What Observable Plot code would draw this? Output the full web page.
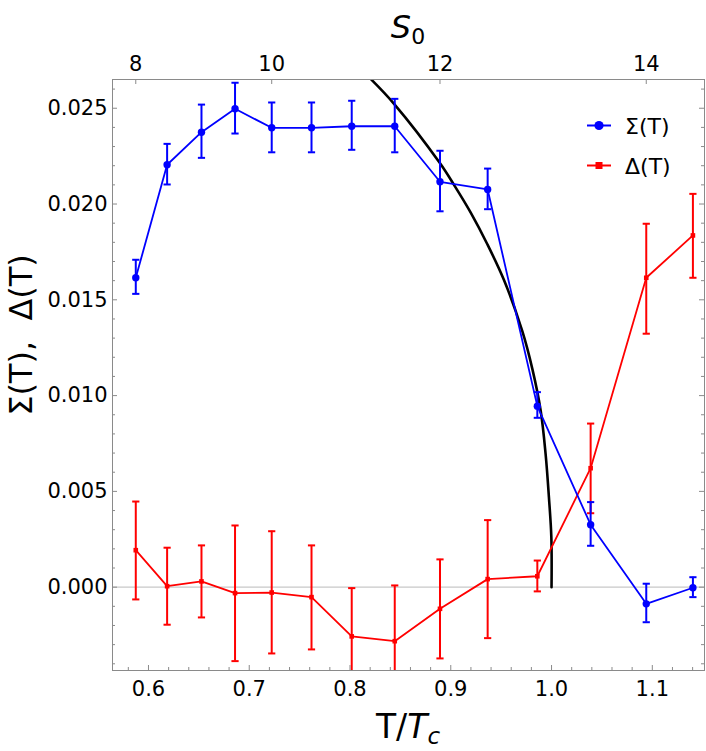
<!DOCTYPE html>
<html><head><meta charset="utf-8">
<script src="https://cdn.jsdelivr.net/npm/d3@7"></script>
<script src="https://cdn.jsdelivr.net/npm/@observablehq/plot@0.6"></script>
<style>body{margin:0;background:#fff} #chart{width:706px;height:751px}</style>
</head><body><div id="chart"></div><script>
// ---- data ----
const s0 = [8, 8.5, 9, 9.5, 10, 10.5, 11, 11.5, 12, 12.5, 13, 13.5, 14, 14.5];
const tOverTc = [0.5874, 0.6185, 0.6526, 0.6859, 0.7223, 0.7618, 0.8017, 0.8444, 0.8893, 0.9366, 0.9859, 1.0388, 1.0940, 1.1403];
const sigma   = [0.01615, 0.02205, 0.02375, 0.02497, 0.02398, 0.02398, 0.02406, 0.02406, 0.02116, 0.02076, 0.00945, 0.00326, -0.00087, -0.00003];
const sigmaHi = [0.01709, 0.02314, 0.02519, 0.02633, 0.02530, 0.02530, 0.02539, 0.02549, 0.02278, 0.02185, 0.01018, 0.00444, 0.00018, 0.00052];
const sigmaLo = [0.01531, 0.02102, 0.02241, 0.02368, 0.02270, 0.02270, 0.02283, 0.02270, 0.01962, 0.01973, 0.00884, 0.00216, -0.00183, -0.00052];
const delta   = [0.00193, 0.00005, 0.00030, -0.00031, -0.00028, -0.00052, -0.00257, -0.00282, -0.00113, 0.00042, 0.00057, 0.00621, 0.01615, 0.01836];
const deltaHi = [0.00447, 0.00206, 0.00218, 0.00322, 0.00292, 0.00218, -0.00005, 0.00009, 0.00145, 0.00350, 0.00139, 0.00854, 0.01897, 0.02053];
const deltaLo = [-0.00064, -0.00196, -0.00158, -0.00386, -0.00346, -0.00325, -0.00510, -0.00570, -0.00372, -0.00266, -0.00022, 0.00386, 0.01323, 0.01615];
// black reference curve
const curveT = [0.8205, 0.8437, 0.8890, 0.9032, 0.9198, 0.9363, 0.9528, 0.9710, 0.9810, 0.9892, 0.9941, 0.9974, 0.9998, 1.0000];
const curveV = [0.02653, 0.02523, 0.02215, 0.02100, 0.01955, 0.01790, 0.01603, 0.01336, 0.01138, 0.00922, 0.00696, 0.00470, 0.00261, 0.00000];
// ticks
const xTicks = [0.6, 0.7, 0.8, 0.9, 1.0, 1.1];
const yTicks = [0, 0.005, 0.010, 0.015, 0.020, 0.025];
const topTickS0 = [8, 10, 12, 14];
const seriesNames = ["Σ(T)", "Δ(T)"];
const seriesColors = ["#0000ff", "#ff0000"];

// ---- build tables ----
const sigData = tOverTc.map((t, i) => ({t, v: sigma[i], hi: sigmaHi[i], lo: sigmaLo[i]}));
const delData = tOverTc.map((t, i) => ({t, v: delta[i], hi: deltaHi[i], lo: deltaLo[i]}));
const curve = curveT.map((t, i) => ({t, v: curveV[i]}));
const topTickT = topTickS0.map(s => tOverTc[s0.indexOf(s)]);
const topLabel = new Map(topTickT.map((t, i) => [t, String(topTickS0[i])]));
const xMinor = d3.range(58, 116, 2).filter(k => k % 10 !== 0).map(k => k / 100);
const yMinor = d3.range(-4, 27).filter(k => k % 5 !== 0).map(k => k / 1000);

const W = 706, H = 751, mt = 79, mb = 81, ml = 112, mr = 2;
const pw = W - ml - mr, ph = H - mt - mb;
const MAJ = 5, MIN = 3;
const gray = "#8a8a8a";
const FONT = "DejaVu Sans, Liberation Sans, sans-serif";

const capSymbol = {draw(ctx, size) { const r = Math.sqrt(size / Math.PI); ctx.moveTo(-r, 0); ctx.lineTo(r, 0); }};

function series(data, color, symbol, r) {
  return [
    Plot.ruleX(data, {x: "t", y1: "lo", y2: "hi", stroke: color, strokeWidth: 2, clip: true}),
    Plot.dot(data, {x: "t", y: "hi", symbol: capSymbol, r: 3.6, stroke: color, strokeWidth: 2, clip: true}),
    Plot.dot(data, {x: "t", y: "lo", symbol: capSymbol, r: 3.6, stroke: color, strokeWidth: 2, clip: true}),
    Plot.line(data, {x: "t", y: "v", stroke: color, strokeWidth: 1.8, clip: true}),
    Plot.dot(data, {x: "t", y: "v", symbol, r, fill: color, stroke: "none", clip: true})
  ];
}

const chart = Plot.plot({
  width: W, height: H,
  marginTop: mt, marginBottom: mb, marginLeft: ml, marginRight: mr,
  style: {fontFamily: FONT, background: "#fff"},
  x: {domain: [0.5643, 1.1518], axis: null},
  y: {domain: [-0.00435, 0.0265], axis: null},
  marks: [
    Plot.ruleY([0], {stroke: "#c8c8c8", strokeWidth: 1.2}),
    Plot.line(curve, {x: "t", y: "v", stroke: "#000", strokeWidth: 2.6, curve: "catmull-rom", clip: true}),
    ...series(delData, seriesColors[1], "square", 2.6),
    ...series(sigData, seriesColors[0], "circle", 3.7),
    Plot.frame({stroke: gray, strokeWidth: 1}),
    // ticks pointing inward on all four sides
    Plot.tickY(yTicks, {y: d => d, stroke: gray, insetRight: pw - MAJ}),
    Plot.tickY(yMinor, {y: d => d, stroke: gray, insetRight: pw - MIN}),
    Plot.tickY(yTicks, {y: d => d, stroke: gray, insetLeft: pw - MAJ}),
    Plot.tickY(yMinor, {y: d => d, stroke: gray, insetLeft: pw - MIN}),
    Plot.tickX(xTicks, {x: d => d, stroke: gray, insetTop: ph - MAJ}),
    Plot.tickX(xMinor, {x: d => d, stroke: gray, insetTop: ph - MIN}),
    Plot.tickX(topTickT, {x: d => d, stroke: gray, insetBottom: ph - MAJ}),
    // tick labels
    Plot.axisY({ticks: yTicks, tickSize: 0, tickPadding: 5, tickFormat: d3.format(".3f"), label: null, fontSize: 21}),
    Plot.axisX({ticks: xTicks, tickSize: 0, tickPadding: 11, tickFormat: d3.format(".1f"), label: null, fontSize: 21}),
    Plot.axisX({anchor: "top", ticks: topTickT, tickSize: 0, tickPadding: 9, tickFormat: d => topLabel.get(d), label: null, fontSize: 21})
  ]
});
document.getElementById("chart").appendChild(chart);

// ---- axis titles and legend ----
const svg = d3.select(chart);
// bottom title T/T_c
const xt = svg.append("text").attr("x", 408).attr("y", 738).attr("text-anchor", "middle")
  .attr("font-family", FONT).attr("font-size", 33).attr("fill", "#000");
xt.append("tspan").text("T/");
xt.append("tspan").attr("font-style", "italic").text("T");
xt.append("tspan").attr("font-style", "italic").attr("font-size", 23).attr("dy", 6).text("c");
// top title S_0
const st = svg.append("text").attr("x", 408).attr("y", 38).attr("text-anchor", "middle")
  .attr("font-family", FONT).attr("font-size", 32).attr("fill", "#000");
st.append("tspan").attr("font-style", "italic").text("S");
st.append("tspan").attr("font-size", 22).attr("dy", 6).text("0");
// left title
svg.append("text").attr("transform", "translate(32,335) rotate(-90)").attr("text-anchor", "middle")
  .attr("font-family", FONT).attr("font-size", 32).attr("fill", "#000")
  .attr("xml:space", "preserve").style("white-space", "pre").text("Σ(T),  Δ(T)");
// legend
const lg = svg.append("g");
[0, 1].forEach(i => {
  const y = 125.5 + i * 40;
  lg.append("line").attr("x1", 587).attr("x2", 611).attr("y1", y).attr("y2", y)
    .attr("stroke", seriesColors[i]).attr("stroke-width", 2);
  if (i === 0) lg.append("circle").attr("cx", 599).attr("cy", y).attr("r", 4.6).attr("fill", seriesColors[i]);
  else lg.append("rect").attr("x", 595.5).attr("y", y - 3.5).attr("width", 7).attr("height", 7).attr("fill", seriesColors[i]);
  lg.append("text").attr("x", 625).attr("y", y + 8).attr("text-anchor", "start").attr("font-family", FONT).attr("font-size", 22)
    .attr("fill", "#000").text(seriesNames[i]);
});
</script></body></html>
